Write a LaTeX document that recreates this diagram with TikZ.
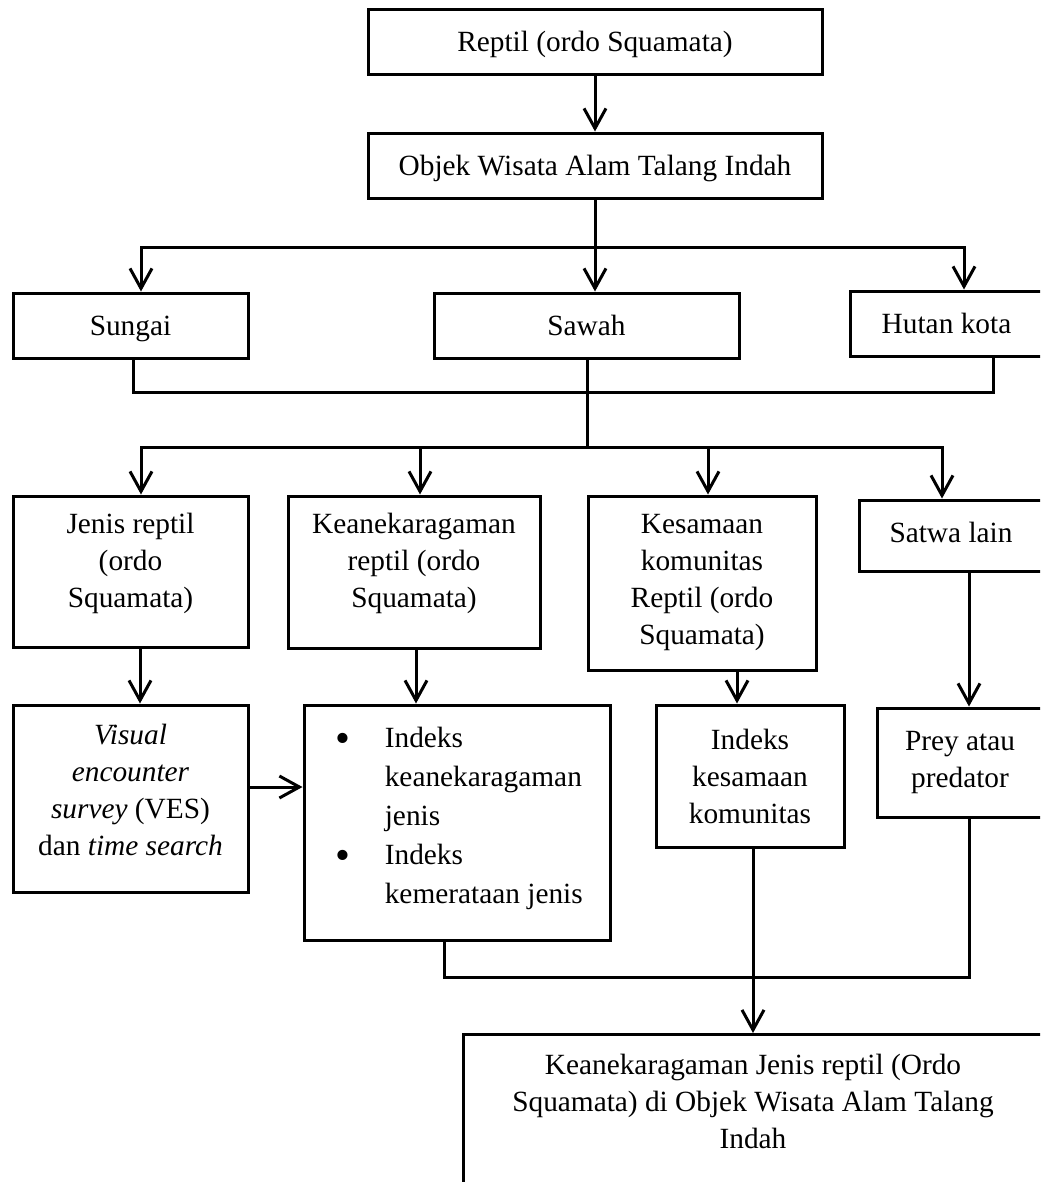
\documentclass[tikz,border=0pt]{standalone}
\usepackage{fontspec}
\setmainfont{Liberation Serif}
\usetikzlibrary{arrows.meta,calc}
\newcommand{\bigbul}{\raisebox{-0.35ex}{\scalebox{1.45}{\textbullet}}}
\newcommand{\lowtxt}[1]{\raisebox{-2.25pt}[\height][\depth]{\strut #1}}
\begin{document}
\begin{tikzpicture}[x=0.75pt,y=-0.75pt,
  txtfont/.style={font=\fontsize{22}{27.75}\selectfont},
  box/.style={draw, line width=2.25pt, inner sep=0pt, align=center, txtfont},
  sz/.style 2 args={minimum width=#1*0.75pt, minimum height=#2*0.75pt},
  conn/.style={line width=2.25pt},
  arr/.style={conn,-{Straight Barb[length=15pt,width=16.5pt,line width=2.25pt]}}]
\useasboundingbox (0,0) rectangle (1040,1182);
\clip (0,0) rectangle (1040,1182);
\fill[white] (0,0) rectangle (1040,1182);

% boxes
\node[box,sz={454}{65}] (r1) at (595,41.5) {\lowtxt{Reptil (ordo Squamata)}};
\node[box,sz={454}{65}] (r2) at (595,165.5) {\lowtxt{Objek Wisata Alam Talang Indah}};
\node[box,sz={235}{65}] (sungai) at (130.5,325.5) {\lowtxt{Sungai}};
\node[box,sz={305}{65}] (sawah) at (586.5,325.5) {\lowtxt{Sawah}};
\node[box,sz={193}{65}] (hutan) at (946.5,323.5) {\lowtxt{Hutan kota}};

\node[box,sz={235}{151}] (jenis) at (130.5,571.5)
  {\raisebox{6.4pt}[\height][\depth]{\begin{tabular}{@{}c@{}}Jenis reptil\\(ordo\\Squamata)\end{tabular}}};
\node[box,sz={252}{152}] (keanek) at (414,572)
  {\raisebox{6.8pt}[\height][\depth]{\begin{tabular}{@{}c@{}}Keanekaragaman\\reptil (ordo\\Squamata)\end{tabular}}};
\node[box,sz={228}{174}] (kesam) at (702,583) {Kesamaan\\komunitas\\Reptil (ordo\\Squamata)};
\node[box,sz={184}{71}] (satwa) at (951,535.5) {\strut Satwa lain};

\node[box,sz={235}{187}] (ves) at (130.5,798.5)
  {\raisebox{4.5pt}[\height][\depth]{\begin{tabular}{@{}c@{}}\textit{Visual}\\\textit{encounter}\\\textit{survey} (VES)\\dan \textit{time search}\end{tabular}}};
\node[box,sz={306}{235}] (indeks) at (457,822.5) {};
\node[txtfont, inner sep=0pt, anchor=west] (indekstxt) at (335,818)
  {\renewcommand{\arraystretch}{1.054}\begin{tabular}{@{}l@{\hspace{26pt}}l@{}}
   \bigbul & Indeks\\ & keanekaragaman\\ & jenis\\ \bigbul & Indeks\\ & kemerataan jenis\end{tabular}};
\node[box,sz={188}{142}] (kidx) at (750,776) {Indeks\\kesamaan\\komunitas};
\node[box,sz={166}{109}] (prey) at (960,762.5) {Prey atau\\predator};

\node[box,sz={581}{300},anchor=north west] (final) at (462,1033) {};
\node[txtfont, align=center, inner sep=0pt] (finaltxt) at (753,1101.5)
  {Keanekaragaman Jenis reptil (Ordo\\Squamata) di Objek Wisata Alam Talang\\Indah};

% helper coordinates
\coordinate (b1) at (595,247);
\coordinate (b2) at (587,392);
\coordinate (b3) at (587,447);
\coordinate (b4) at (753,977);
\coordinate (x133) at (133,0);
\coordinate (x140) at (140,0);
\coordinate (x141) at (141,0);
\coordinate (x416) at (416,0);
\coordinate (x420) at (420,0);
\coordinate (x444) at (444,0);
\coordinate (x708) at (708,0);
\coordinate (x737) at (737,0);
\coordinate (x753) at (753,0);
\coordinate (x942) at (942,0);
\coordinate (x964) at (964,0);
\coordinate (x969) at (969,0);
\coordinate (x993) at (993,0);
\coordinate (y787) at (0,787);

% connectors
\draw[arr] (r1) -- (r2);
\draw[conn] (r2) -- (b1);
\draw[arr] (b1) -| (sungai.north -| x141);
\draw[arr] (b1) -- (sawah.north -| b1);
\draw[arr] (b1) -| (hutan.north -| x964);

\draw[conn] (sungai.south -| x133) |- (b2) -| (hutan.south -| x993);
\draw[conn] (sawah.south -| b2) -- (b3);
\draw[arr] (b3) -| (jenis.north -| x141);
\draw[arr] (b3) -| (keanek.north -| x420);
\draw[arr] (b3) -| (kesam.north -| x708);
\draw[arr] (b3) -| (satwa.north -| x942);

\draw[arr] (jenis.south -| x140) -- (ves.north -| x140);
\draw[arr] (keanek.south -| x416) -- (indeks.north -| x416);
\draw[arr] (kesam.south -| x737) -- (kidx.north -| x737);
\draw[arr] (satwa.south -| x969) -- (prey.north -| x969);
\draw[arr] (ves.east |- y787) -- (indeks.west |- y787);

\draw[conn] (indeks.south -| x444) |- (b4) -| (prey.south -| x969);
\draw[arr] (kidx.south -| x753) -- (final.north -| x753);
\end{tikzpicture}
\end{document}
